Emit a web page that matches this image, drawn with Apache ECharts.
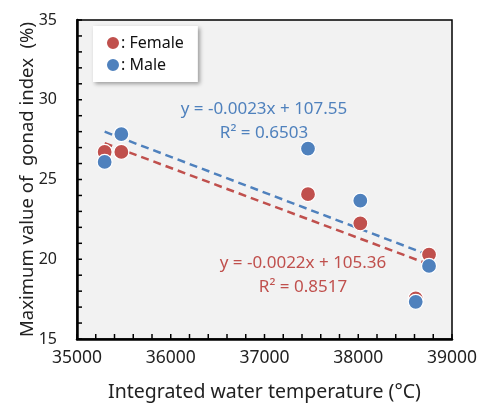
<!DOCTYPE html>
<html>
<head>
<meta charset="utf-8">
<script src="https://cdn.jsdelivr.net/npm/echarts@6/dist/echarts.min.js"></script>
<style>
html,body{margin:0;padding:0;background:#fff;}
#chart{width:478px;height:407px;}
</style>
</head>
<body>
<div id="chart"></div>
<script>
// Data
const temps = [35295, 35473, 37464, 38022, 38613, 38755];
const femaleGSI = [26.73, 26.73, 24.08, 22.25, 17.55, 20.29];
const maleGSI = [26.1, 27.85, 26.94, 23.67, 17.33, 19.58];
const seriesNames = ['Female', 'Male'];
const femaleEq = ['y = -0.0022x + 105.36', 'R\u00B2 = 0.8517'];
const maleEq = ['y = -0.0023x + 107.55', 'R\u00B2 = 0.6503'];
// Tick positions (major + minor) along each axis
const xTickValues = [35000, 35200, 35400, 35600, 35800, 36000, 36200, 36400, 36600, 36800, 37000,
  37200, 37400, 37600, 37800, 38000, 38200, 38400, 38600, 38800, 39000];
const yTickValues = [15, 16, 17, 18, 19, 20, 21, 22, 23, 24, 25, 26, 27, 28, 29, 30, 31, 32, 33, 34, 35];

const RED = '#C0504D';
const BLUE = '#4F81BD';
const FONT = 'Noto Sans';
const G = { left: 77, top: 20, width: 375, height: 319 };
const X_MIN = 35000, X_MAX = 39000, Y_MIN = 15, Y_MAX = 35;

function pairs(xs, ys) { return xs.map((x, i) => [x, ys[i]]); }
function trend(xs, ys) {
  const n = xs.length;
  const mx = xs.reduce((a, b) => a + b, 0) / n;
  const my = ys.reduce((a, b) => a + b, 0) / n;
  let sxy = 0, sxx = 0;
  for (let i = 0; i < n; i++) { sxy += (xs[i] - mx) * (ys[i] - my); sxx += (xs[i] - mx) ** 2; }
  const b = sxy / sxx, a = my - b * mx;
  const x0 = Math.min(...xs), x1 = Math.max(...xs);
  return [[x0, a + b * x0], [x1, a + b * x1]];
}

const TICK_LEN = 5;
function xTickRender(params, api) {
  const p = api.coord([api.value(0), Y_MIN]);
  return { type: 'line', shape: { x1: p[0], y1: p[1], x2: p[0], y2: p[1] - TICK_LEN },
    style: { stroke: '#000', lineWidth: 1.5 } };
}
function yTickRender(params, api) {
  const p = api.coord([X_MIN, api.value(0)]);
  return { type: 'line', shape: { x1: p[0], y1: p[1], x2: p[0] + TICK_LEN, y2: p[1] },
    style: { stroke: '#000', lineWidth: 1.5 } };
}

const chart = echarts.init(document.getElementById('chart'));
const option = {
  animation: false,
  textStyle: { fontFamily: FONT },
  grid: { left: G.left, top: G.top, width: G.width, height: G.height, show: false,
    containLabel: false, outerBoundsMode: 'none' },
  legend: {
    data: seriesNames,
    orient: 'vertical',
    left: 93, top: 26,
    padding: [9, 14, 9, 12],
    itemGap: 6,
    itemWidth: 14, itemHeight: 14,
    icon: 'circle',
    backgroundColor: '#fff',
    shadowColor: 'rgba(0,0,0,0.35)', shadowBlur: 4, shadowOffsetX: 2, shadowOffsetY: 2,
    formatter: n => ': ' + n,
    textStyle: { fontSize: 16, color: '#111', fontFamily: FONT, padding: [0, 0, 0, -4] }
  },
  xAxis: {
    type: 'value', min: X_MIN, max: X_MAX, interval: 1000,
    name: 'Integrated water temperature (\u00B0C)', nameLocation: 'middle', nameGap: 43, nameMoveOverlap: false,
    nameTextStyle: { fontSize: 19.5, color: '#222', fontFamily: FONT },
    axisLine: { show: true, lineStyle: { color: '#000', width: 2.5 } },
    axisTick: { show: false },
    minorTick: { show: false },
    axisLabel: { fontSize: 17.5, color: '#222', margin: 10, fontFamily: FONT, formatter: v => String(v) },
    splitLine: { show: false }
  },
  yAxis: {
    type: 'value', min: Y_MIN, max: Y_MAX, interval: 5,
    name: 'Maximum value of  gonad index  (%)', nameLocation: 'middle', nameGap: 40, nameMoveOverlap: false,
    nameTextStyle: { fontSize: 18.5, color: '#222', fontFamily: FONT },
    axisLine: { show: true, lineStyle: { color: '#000', width: 2.5 } },
    axisTick: { show: false },
    minorTick: { show: false },
    axisLabel: { fontSize: 16, color: '#222', margin: 20, fontFamily: FONT, formatter: v => String(v) },
    splitLine: { show: false }
  },
  series: [
    { name: 'xTicks', type: 'custom', renderItem: xTickRender, data: xTickValues.map(v => [v]),
      encode: { x: 0 }, silent: true, z: 6, clip: false },
    { name: 'yTicks', type: 'custom', renderItem: yTickRender, data: yTickValues.map(v => [v]),
      encode: { y: 0 }, silent: true, z: 6, clip: false },
    {
      name: 'FemaleTrend', type: 'line', data: trend(temps, femaleGSI), showSymbol: false, symbol: 'none',
      lineStyle: { color: RED, width: 2.5, type: [8, 5] }, z: 2, silent: true
    },
    {
      name: 'MaleTrend', type: 'line', data: trend(temps, maleGSI), showSymbol: false, symbol: 'none',
      lineStyle: { color: BLUE, width: 2.5, type: [8, 5] }, z: 2, silent: true
    },
    {
      name: 'Female', type: 'scatter', data: pairs(temps, femaleGSI), symbolSize: 15,
      itemStyle: { color: RED, borderColor: '#fff', borderWidth: 1.2, opacity: 1 }, z: 3
    },
    {
      name: 'Male', type: 'scatter', data: pairs(temps, maleGSI), symbolSize: 15,
      itemStyle: { color: BLUE, borderColor: '#fff', borderWidth: 1.2, opacity: 1 }, z: 4
    }
  ],
  graphic: [
    { type: 'rect', z: -10, silent: true, shape: { x: G.left, y: G.top, width: G.width, height: G.height }, style: { fill: '#F2F2F2', stroke: null } },
    { type: 'rect', z: 1, silent: true, shape: { x: G.left, y: G.top, width: G.width, height: G.height }, style: { fill: null, stroke: '#000', lineWidth: 1.5 } },
    { type: 'text', x: 264, y: 109, z: 10, style: { text: maleEq[0], fill: BLUE, fontSize: 17, fontFamily: FONT, align: 'center', verticalAlign: 'middle' } },
    { type: 'text', x: 264, y: 133, z: 10, style: { text: maleEq[1], fill: BLUE, fontSize: 17, fontFamily: FONT, align: 'center', verticalAlign: 'middle' } },
    { type: 'text', x: 303, y: 263, z: 10, style: { text: femaleEq[0], fill: RED, fontSize: 17, fontFamily: FONT, align: 'center', verticalAlign: 'middle' } },
    { type: 'text', x: 303, y: 287, z: 10, style: { text: femaleEq[1], fill: RED, fontSize: 17, fontFamily: FONT, align: 'center', verticalAlign: 'middle' } }
  ]
};
chart.setOption(option);
</script>
</body>
</html>
